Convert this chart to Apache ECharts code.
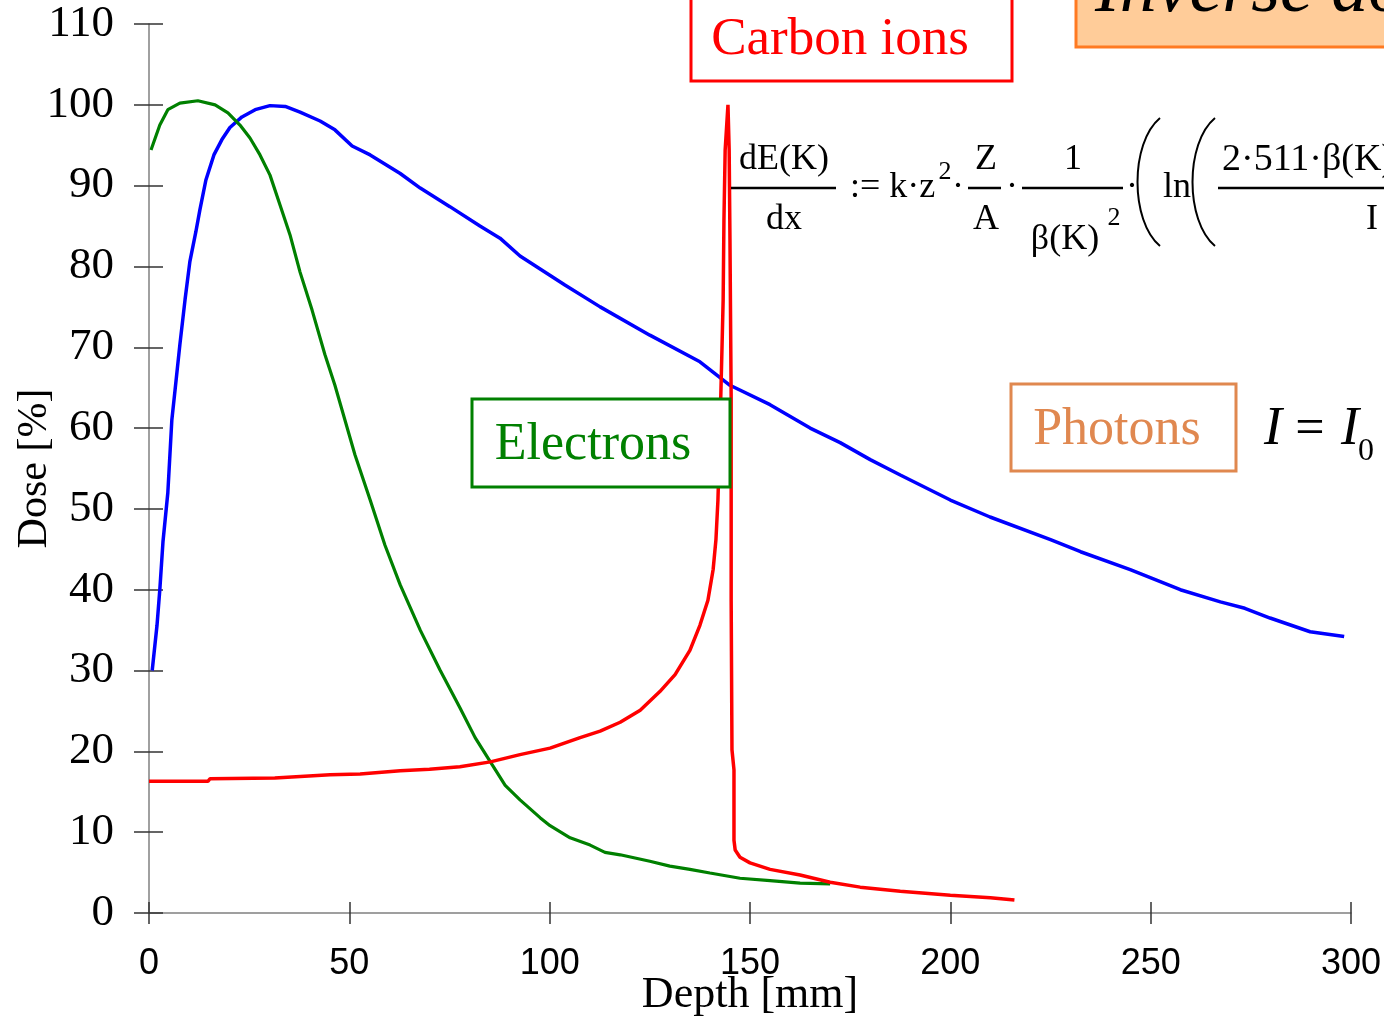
<!DOCTYPE html>
<html lang="en">
<head>
    <meta charset="UTF-8">
    <title>Depth dose</title>
    <script src="https://cdn.jsdelivr.net/npm/echarts@6/dist/echarts.min.js"></script>
    <style>
        html, body { margin: 0; padding: 0; background: #fff; }
        #main { width: 1384px; height: 1018px; }
    </style>
</head>
<body>
<div id="main"></div>
<script type="text/javascript">
    // 读图得到的数据 (depth in mm, dose in %)
    var photonDepth = [0.8, 2, 2.7, 3.5, 4.7, 5.7, 6.5, 7.7, 9, 10.2, 11.7, 12.7, 14.2, 16.2, 18.2, 20.2, 23.2, 26.5, 30.2, 34,
        37.7, 42.7, 46.4, 50.7, 55.2, 62.7, 67.7, 75.1, 82.6, 87.6, 92.6, 103.8, 112.6, 125, 137.5, 145, 155, 165, 172.5,
        180, 187.5, 200, 209.9, 225, 232.5, 244.9, 257.4, 267.4, 273.5, 279.8, 289.8, 298.3];
    var photonDose = [30, 35.6, 40, 46, 52, 61, 64.7, 70.3, 75.9, 80.6, 84.3, 87, 90.7, 93.8, 95.7, 97.2, 98.5, 99.4, 99.9, 99.8,
        99.1, 98, 96.9, 94.9, 93.8, 91.5, 89.7, 87.4, 85, 83.5, 81.3, 77.7, 75, 71.5, 68.2, 65.3, 62.9, 60, 58.2,
        56.1, 54.2, 51.1, 49, 46.2, 44.7, 42.5, 40, 38.5, 37.7, 36.5, 34.8, 34.2];

    var electronDepth = [0.5, 2.7, 4.7, 7.7, 12.2, 16.5, 19.7, 22.7, 25.2, 27.7, 30.2, 32.7, 35.2, 37.7, 40.7, 43.9, 46.4, 48.9,
        51.4, 55.2, 58.9, 62.7, 67.7, 72.6, 77.6, 81.4, 85.2, 88.9, 92.6, 97.6, 100.1, 105.1, 110.1, 113.8, 117.6, 125,
        130, 135, 140, 147.5, 155, 162.5, 170];
    var electronDose = [94.4, 97.5, 99.4, 100.2, 100.5, 100, 99, 97.5, 95.9, 93.8, 91.3, 87.6, 83.9, 79.3, 74.6, 69.1, 65.3, 61,
        56.7, 51.1, 45.5, 40.6, 35, 30.1, 25.4, 21.7, 18.7, 15.8, 14, 11.8, 10.8, 9.3, 8.4, 7.5, 7.2, 6.4,
        5.8, 5.4, 4.95, 4.3, 4, 3.7, 3.6];

    var carbonDepth = [0, 14.7, 15.2, 31.4, 45.2, 52.7, 62.7, 70, 77.6, 85.2, 92.6, 100.1, 107.6, 112.6, 117.6, 122.6, 127.5,
        131.3, 135, 137.5, 139.5, 140.8, 141.5, 142, 142.5, 143, 143.3, 143.5, 143.8, 144.5, 144.8, 145, 145.3, 145.3,
        145.5, 146, 146, 146.3, 147.5, 150, 155, 162.5, 170, 177.5, 187.5, 200, 210, 216];
    var carbonDose = [16.3, 16.3, 16.6, 16.7, 17.1, 17.2, 17.6, 17.8, 18.1, 18.7, 19.6, 20.4, 21.7, 22.5, 23.6, 25.1, 27.4,
        29.5, 32.5, 35.6, 38.7, 42.5, 46.2, 51.1, 59.8, 69.7, 75.9, 85.8, 94.4, 100, 94.4, 83.3, 63.5, 38.7,
        20.2, 17.7, 9, 7.8, 6.9, 6.2, 5.4, 4.7, 3.8, 3.2, 2.7, 2.2, 1.9, 1.6];

    var xTicks = [0, 50, 100, 150, 200, 250, 300];
    var yTicks = [0, 10, 20, 30, 40, 50, 60, 70, 80, 90, 100, 110];

    function zip(xs, ys) {
        return xs.map(function (x, i) { return [x, ys[i]]; });
    }

    var SERIF = '"Liberation Serif", "Times New Roman", serif';
    var SANS = '"Liberation Sans", Arial, sans-serif';

    function txt(s, x, y, size, opts) {
        opts = opts || {};
        return {
            type: 'text', z: 100,
            style: {
                text: s, x: x, y: y,
                font: (opts.style || 'normal') + ' ' + size + 'px ' + SERIF,
                fill: opts.fill || '#000',
                textAlign: opts.align || 'center',
                textVerticalAlign: 'middle'
            }
        };
    }
    function hline(x1, x2, y) {
        return { type: 'line', z: 100, shape: { x1: x1, y1: y, x2: x2, y2: y }, style: { stroke: '#000', lineWidth: 2.5 } };
    }
    function paren(x, yTop, yBot) {
        return {
            type: 'bezierCurve', z: 100,
            shape: { x1: x, y1: yTop, cpx1: x - 30, cpy1: yTop + 25, cpx2: x - 30, cpy2: yBot - 25, x2: x, y2: yBot },
            style: { stroke: '#000', lineWidth: 2, fill: 'none' }
        };
    }
    function box(x, y, w, h, stroke, fill) {
        return { type: 'rect', z: 90, shape: { x: x, y: y, width: w, height: h }, style: { fill: fill || '#fff', stroke: stroke, lineWidth: 3 } };
    }

    var myChart = echarts.init(document.getElementById('main'));

    var gridBox = { left: 149, right: 33, top: 24, bottom: 105, containLabel: false, outerBoundsMode: 'none' };
    var tickStyle = { color: '#333', width: 1.5 };

    var option = {
        animation: false,
        backgroundColor: '#fff',
        // 第二个 grid 与第一个重合，只用来画朝内的半截刻度
        grid: [Object.assign({}, gridBox), Object.assign({}, gridBox)],
        xAxis: [{
            gridIndex: 0, type: 'value', min: 0, max: 300, interval: 50,
            name: 'Depth [mm]', nameLocation: 'middle', nameGap: 60, nameMoveOverlap: false,
            nameTextStyle: { fontFamily: SERIF, fontSize: 44, color: '#000' },
            axisLine: { lineStyle: { color: '#808080', width: 1.5 } },
            axisTick: { length: 11, lineStyle: tickStyle },
            axisLabel: { fontFamily: SANS, fontSize: 36, color: '#000', margin: 33,
                formatter: function (v) { return xTicks.indexOf(v) >= 0 ? String(v) : ''; } },
            splitLine: { show: false }
        }, {
            gridIndex: 1, type: 'value', min: 0, max: 300, interval: 50, position: 'bottom',
            axisLine: { show: false },
            axisTick: { show: true, inside: true, length: 11, lineStyle: tickStyle },
            axisLabel: { show: false },
            splitLine: { show: false }
        }],
        yAxis: [{
            gridIndex: 0, type: 'value', min: 0, max: 110, interval: 10,
            name: 'Dose [%]', nameLocation: 'middle', nameGap: 93, nameMoveOverlap: false,
            nameTextStyle: { fontFamily: SERIF, fontSize: 42, color: '#000' },
            axisLine: { show: true, lineStyle: { color: '#808080', width: 1.5 } },
            axisTick: { show: true, length: 15, lineStyle: tickStyle },
            axisLabel: { fontFamily: SERIF, fontSize: 45, color: '#000', margin: 35,
                formatter: function (v) { return yTicks.indexOf(v) >= 0 ? String(v) : ''; } },
            splitLine: { show: false }
        }, {
            gridIndex: 1, type: 'value', min: 0, max: 110, interval: 10, position: 'left',
            axisLine: { show: false },
            axisTick: { show: true, inside: true, length: 14, lineStyle: tickStyle },
            axisLabel: { show: false },
            splitLine: { show: false }
        }],
        series: [
            {
                name: 'Photons', type: 'line', showSymbol: false, symbol: 'none',
                lineStyle: { color: '#0000ff', width: 3.5 },
                data: zip(photonDepth, photonDose)
            },
            {
                name: 'Electrons', type: 'line', showSymbol: false, symbol: 'none',
                lineStyle: { color: '#008000', width: 3.2 },
                data: zip(electronDepth, electronDose)
            },
            {
                name: 'Carbon ions', type: 'line', showSymbol: false, symbol: 'none',
                lineStyle: { color: '#ff0000', width: 3.5 },
                data: zip(carbonDepth, carbonDose)
            }
        ],
        graphic: [
            // 右上角的标题框
            box(1076, -10, 330, 57, '#ff7a22', '#ffcc99'),
            txt('Inverse dose profile', 1095, -8, 74, { style: 'italic', align: 'left' }),
            // 标签框
            box(691, -10, 321, 91, '#ff0000'),
            txt('Carbon ions', 840, 40, 53, { fill: '#ff0000' }),
            box(472, 399, 258, 88, '#008000'),
            txt('Electrons', 593, 445, 52, { fill: '#008000' }),
            box(1011, 384, 225, 87, '#e0884f'),
            txt('Photons', 1117, 430, 52, { fill: '#e08850' }),
            txt('I', 1273, 430, 54, { style: 'italic' }),
            txt('=', 1310, 430, 52),
            txt('I', 1350, 430, 54, { style: 'italic' }),
            txt('0', 1366, 452, 32),
            // Bethe formula
            txt('dE(K)', 784, 160, 36),
            hline(731, 836, 188),
            txt('dx', 784, 220, 36),
            txt(':= k\u00b7z', 850, 188, 36, { align: 'left' }),
            txt('2', 945, 172, 26),
            txt('\u00b7', 958, 188, 36),
            txt('Z', 986, 160, 36),
            hline(968, 1001, 188),
            txt('A', 986, 220, 36),
            txt('\u00b7', 1012, 188, 36),
            txt('1', 1073, 160, 36),
            hline(1022, 1123, 188),
            txt('\u03b2(K)', 1065, 240, 36),
            txt('2', 1114, 218, 26),
            txt('\u00b7', 1132, 188, 36),
            paren(1160, 118, 246),
            txt('ln', 1163, 188, 36, { align: 'left' }),
            paren(1215, 118, 246),
            txt('2\u00b7511\u00b7\u03b2(K)', 1222, 160, 38, { align: 'left' }),
            hline(1218, 1400, 188),
            txt('I', 1372, 220, 36)
        ]
    };
    myChart.setOption(option);
</script>
</body>
</html>
